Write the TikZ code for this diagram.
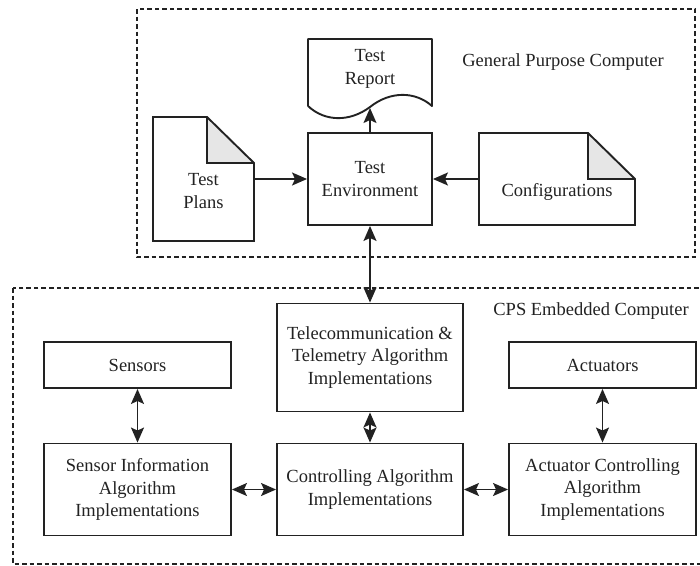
\documentclass[tikz,border=0pt]{standalone}
\usepackage{fontspec}
\setmainfont{Liberation Serif}
\usetikzlibrary{arrows.meta}
\definecolor{ink}{HTML}{222222}
\definecolor{foldgray}{HTML}{E6E6E6}
\begin{document}
\begin{tikzpicture}[x=1pt,y=-1pt,
  ink/.style={draw=ink,line width=1.9pt},
  block/.style={ink,rectangle,inner sep=0pt,align=center,
    font=\fontsize{18.5}{22.5}\selectfont,text=ink},
  holder/.style={rectangle,inner sep=0pt,draw=none},
  label/.style={inner sep=0pt,align=center,font=\fontsize{18.5}{22.5}\selectfont,text=ink},
  tip/.tip={Stealth[length=15pt,width=13pt,inset=3pt]},
  conn/.style={draw=ink,line width=1.7pt,-tip},
  biconn/.style={draw=ink,line width=1.7pt,tip-tip},
  zone/.style={draw=ink,dash pattern=on 4.5pt off 3pt}
]
\useasboundingbox (0,0) rectangle (700,565);

% --- enclosing computers ---
\draw[zone,line width=1.3pt] (137,9) rectangle (695,257);
\draw[zone,line width=1.7pt] (13,288) rectangle (706,564);
\node[label,anchor=center] (gpc) at (563,62) {General Purpose Computer};
\node[label,anchor=center] (cps) at (591,311) {CPS Embedded Computer};

% --- test environment ---
\node[block,minimum width=124pt,minimum height=92pt] (env) at (370,179) {Test\\Environment};

% --- test report (document with wavy bottom) ---
\node[holder,minimum width=124pt,minimum height=67pt] (report) at (370,72.5) {};
\draw[ink,line join=round] (308,106) -- (308,39) -- (432,39) -- (432,106)
  .. controls (415,91) and (390,91) .. (370,107)
  .. controls (350,122) and (325,122) .. (308,106);
\coordinate (wave) at (370,108);
\node[label] (reporttext) at (370,69) {Test\\Report};

% --- test plans (page with folded corner) ---
\node[holder,minimum width=101pt,minimum height=124pt] (plans) at (203.5,179) {};
\fill[foldgray] (207,117) -- (207,163) -- (254,163) -- cycle;
\draw[ink,line join=miter] (153,117) -- (207,117) -- (254,163) -- (254,241) -- (153,241) -- cycle;
\draw[ink] (207,117) -- (207,163) -- (254,163);
\node[label] (planstext) at (203.5,191) {Test\\Plans};

% --- configurations (page with folded corner) ---
\node[holder,minimum width=156pt,minimum height=92pt] (conf) at (557,179) {};
\fill[foldgray] (588,133) -- (588,179) -- (635,179) -- cycle;
\draw[ink,line join=miter] (479,133) -- (588,133) -- (635,179) -- (635,225) -- (479,225) -- cycle;
\draw[ink] (588,133) -- (588,179) -- (635,179);
\node[label] (conftext) at (557,192) {Configurations};

% --- embedded blocks ---
\node[block,minimum width=186pt,minimum height=108pt] (tele) at (370,357.5)
  {Telecommunication \&\\Telemetry Algorithm\\Implementations};
\node[block,minimum width=187pt,minimum height=46pt] (sensors) at (137.5,365) {Sensors};
\node[block,minimum width=187pt,minimum height=46pt] (actuators) at (602.5,365) {Actuators};
\node[block,minimum width=187pt,minimum height=92pt] (sinfo) at (137.5,489.5)
  {Sensor Information\\Algorithm\\Implementations};
\node[block,minimum width=186pt,minimum height=92pt] (ctrl) at (370,489.5)
  {Controlling Algorithm\\Implementations};
\node[block,minimum width=187pt,minimum height=92pt] (actl) at (602.5,489.5)
  {Actuator Controlling\\Algorithm\\Implementations};

% --- connectors ---
\draw[conn] (plans.east) -- (env.west);
\draw[conn] (conf.west) -- (env.east);
\draw[conn] (env.north) -- (wave);
\draw[biconn] (env.south) -- (tele.north);
\draw[biconn] (tele.south) -- (ctrl.north);
\draw[biconn] (sensors.south) -- (sinfo.north);
\draw[biconn] (actuators.south) -- (actl.north);
\draw[biconn] (sinfo.east) -- (ctrl.west);
\draw[biconn] (ctrl.east) -- (actl.west);
\end{tikzpicture}
\end{document}
